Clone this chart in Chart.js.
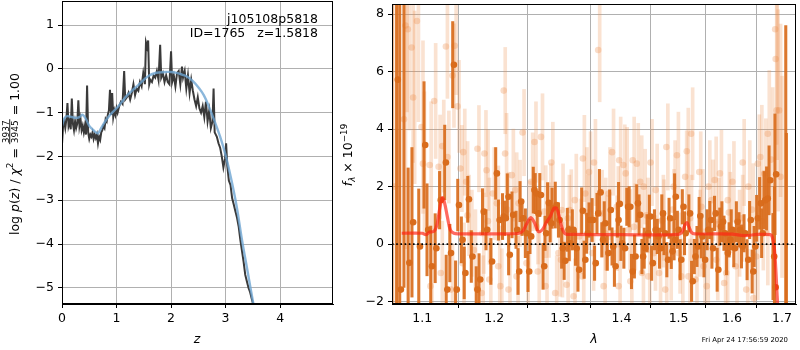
<!DOCTYPE html>
<html>
<head>
<meta charset="utf-8">
<script src="https://cdn.jsdelivr.net/npm/chart.js@4.4.1/dist/chart.umd.min.js"></script>
<style>
html, body { margin: 0; padding: 0; background: #fff; width: 800px; height: 350px; overflow: hidden; }
canvas { position: absolute; top: 0; }
#pz { left: 0; }
#sp { left: 330px; }
</style>
</head>
<body>
<canvas id="pz" width="340" height="350"></canvas>
<canvas id="sp" width="470" height="350"></canvas>
<script>
// ---- left panel: log p(z) ----
const zDark = [
  0.00,0.02,0.04,0.06,0.08,0.10,0.12,0.14,0.16,0.18,
  0.20,0.22,0.24,0.26,0.28,0.30,0.32,0.34,0.36,0.38,
  0.40,0.42,0.44,0.46,0.48,0.50,0.52,0.54,0.56,0.58,
  0.60,0.62,0.64,0.66,0.68,0.70,0.72,0.74,0.76,0.78,
  0.80,0.82,0.84,0.86,0.88,0.90,0.92,0.94,0.96,0.98,
  1.00,1.02,1.05,1.08,1.11,1.14,1.16,1.19,1.22,1.25,
  1.28,1.31,1.34,1.37,1.40,1.43,1.46,1.49,1.52,1.54,
  1.56,1.58,1.60,1.62,1.65,1.68,1.71,1.74,1.77,1.80,
  1.82,1.85,1.88,1.91,1.94,1.97,2.00,2.02,2.05,2.08,
  2.11,2.14,2.17,2.20,2.22,2.25,2.28,2.31,2.34,2.37,
  2.40,2.43,2.46,2.49,2.52,2.55,2.58,2.61,2.64,2.67,
  2.70,2.73,2.76,2.78,2.80,2.84,2.87,2.90,2.93,2.96,
  2.99,3.01,3.03,3.06,3.09,3.12,3.15,3.18,3.21,3.24,
  3.27,3.30,3.33,3.36,3.39,3.42,3.45,3.48,3.51
];
const pDark = [
  -1.72,-1.30,-1.20,-1.35,-1.15,-0.78,-1.30,-1.20,-1.38,-0.68,
  -1.25,-1.40,-1.20,-1.35,-1.25,-0.72,-1.30,-1.15,-1.40,-1.30,
  -1.45,-1.30,-1.50,-0.38,-1.45,-1.60,-1.50,-1.55,-1.45,-1.60,
  -1.50,-1.58,-1.50,-1.70,-1.55,-1.62,-1.45,-1.40,-1.30,-1.35,
  -1.15,-1.20,-1.05,-0.95,-0.48,-1.05,-0.55,-1.10,-0.95,-1.05,
  -0.90,-1.00,-0.85,-0.75,-0.80,-0.05,-0.70,-0.65,-0.55,-0.70,
  -0.55,-0.35,-0.60,-0.45,-0.50,-0.30,-0.40,-0.10,-0.35,0.60,
  0.50,0.65,-0.35,-0.25,-0.30,-0.15,-0.20,-0.05,-0.25,0.55,
  -0.20,-0.10,-0.30,-0.15,-0.30,-0.35,0.40,-0.30,-0.15,-0.40,
  -0.10,-0.05,-0.35,0.05,-0.20,-0.05,-0.45,-0.15,-0.55,-0.25,
  -0.50,-0.70,-0.85,-0.65,-0.90,-1.00,-0.85,-1.10,-0.75,-1.20,
  -0.95,-1.35,-1.20,-0.45,-1.45,-1.55,-1.70,-1.80,-2.00,-2.25,
  -2.05,-1.70,-2.20,-2.55,-2.65,-2.95,-3.10,-3.25,-3.40,-3.60,
  -3.90,-4.15,-4.40,-4.70,-4.85,-5.00,-5.10,-5.25,-5.40
];
const zSmooth = [0.00,0.05,0.10,0.18,0.25,0.32,0.38,0.44,0.50,0.56,0.62,0.66,0.72,0.78,0.85,0.92,1.00,1.10,1.20,1.30,
  1.40,1.50,1.60,1.70,1.80,1.90,2.00,2.10,2.20,2.30,2.40,2.50,2.60,2.70,2.80,2.90,3.00,3.10,3.20,3.30,3.40,3.50,3.55];
const pSmooth = [-1.30,-1.12,-1.08,-1.10,-1.12,-1.10,-1.05,-1.15,-1.30,-1.38,-1.45,-1.47,-1.35,-1.22,-1.10,-1.00,-0.90,-0.75,-0.60,-0.48,
  -0.37,-0.25,-0.15,-0.10,-0.08,-0.07,-0.07,-0.09,-0.13,-0.18,-0.28,-0.42,-0.60,-0.88,-1.20,-1.55,-1.97,-2.50,-3.12,-3.90,-4.60,-5.30,-5.60];
const zTicks = [0, 1, 2, 3, 4];
const pTicks = [-5, -4, -3, -2, -1, 0, 1];

// ---- right panel: spectrum ----
const lamDark = [
  1.062,1.068,1.072,1.0775,1.083,1.088,1.097,1.104,1.108,1.113,
  1.119,1.125,1.132,1.134,1.139,1.143,1.147,1.150,1.155,1.159,
  1.164,1.169,1.176,1.180,1.185,1.190,1.197,1.204,1.208,1.214,
  1.217,1.221,1.223,1.228,1.234,1.237,1.240,1.243,1.248,1.252,
  1.255,1.260,1.263,1.266,1.270,1.275,1.278,1.282,1.286,1.289,
  1.294,1.299,1.304,1.308,1.313,1.316,1.321,1.326,1.330,1.336,
  1.340,1.344,1.348,1.353,1.357,1.361,1.365,1.369,1.373,1.378,
  1.382,1.386,1.390,1.395,1.397,1.401,1.406,1.411,1.415,1.419,
  1.424,1.428,1.432,1.437,1.441,1.446,1.450,1.454,1.459,1.464,
  1.468,1.472,1.476,1.481,1.485,1.489,1.494,1.495,1.500,1.505,
  1.509,1.513,1.521,1.526,1.531,1.536,1.540,1.544,1.549,1.555,
  1.560,1.564,1.569,1.574,1.579,1.583,1.587,1.592,1.597,1.601,
  1.606,1.611,1.616,1.621,1.626,1.632,1.637,1.642,1.646,1.651,
  1.657,1.661,1.666,1.671,1.676,1.684,1.688,1.687,1.7102,1.7115
];
const fluxDark = [
  -4.0,5.72,-1.58,9.5,-0.65,0.76,-0.08,3.45,0.50,-0.77,
  -0.14,1.53,2.84,-1.58,-0.31,6.24,-1.58,1.36,0.15,-1.00,
  1.56,-0.43,-1.58,-1.23,1.13,0.50,-0.60,2.46,0.84,0.96,
  0.90,1.65,-0.37,1.02,0.50,-0.95,1.48,0.90,0.38,-0.95,
  0.27,1.88,1.76,1.07,1.71,-0.77,0.38,1.44,0.73,1.25,
  1.36,0.84,-0.14,-0.58,0.50,0.03,0.50,-0.14,-0.89,1.16,
  -0.54,0.38,0.84,0.84,-0.66,1.07,1.80,0.15,0.73,-0.31,
  1.19,-0.08,-0.77,0.84,1.40,0.03,-0.14,1.30,1.30,-0.95,
  -0.43,1.42,1.02,-0.43,-0.14,0.38,0.96,-0.66,0.50,0.27,
  -0.14,1.07,0.38,-0.54,0.90,-0.25,0.15,1.65,0.50,-0.54,
  1.30,0.38,1.07,-1.29,-0.43,-0.08,0.98,0.27,-0.54,0.50,
  0.84,-0.14,1.07,-0.89,0.61,0.78,0.38,-0.31,0.15,0.50,
  -0.14,0.78,0.50,-0.08,0.38,-0.54,0.84,-0.95,-0.08,0.90,
  1.42,0.38,1.53,1.59,2.22,-0.43,2.43,-1.50,-3.2,-4.0
];
const errDark = [
  13,9,10,11,3.3,2.6,2.0,2.2,1.6,1.4,
  1.2,1.0,1.3,1.2,1.0,1.5,1.0,0.9,0.8,0.9,
  0.8,0.9,0.8,0.9,0.8,0.7,0.8,0.9,0.7,0.8,
  0.6,0.8,0.7,0.8,0.65,0.8,0.7,0.6,0.85,0.7,
  0.6,0.8,0.7,0.6,0.75,0.8,0.6,0.7,0.65,0.7,
  0.8,0.6,0.7,0.65,0.75,0.6,0.7,0.6,0.75,0.8,
  0.65,0.7,0.6,0.75,0.6,0.7,0.8,0.6,0.75,0.6,
  0.7,0.65,0.7,0.6,0.75,0.6,0.7,0.65,0.7,0.6,
  0.75,0.65,0.7,0.6,0.7,0.65,0.75,0.6,0.7,0.6,
  0.7,0.65,0.75,0.6,0.7,0.6,0.7,0.8,0.65,0.7,
  0.6,0.75,0.65,0.7,0.6,0.7,0.65,0.75,0.6,0.7,
  0.65,0.7,0.6,0.75,0.65,0.7,0.6,0.75,0.6,0.7,
  0.65,0.7,0.6,0.75,0.65,0.7,0.65,0.75,0.7,0.8,
  0.9,0.85,1.0,1.1,1.2,1.5,2.1,3.5,10.8,7.85
];
const lamPale = [
  1.064,1.076,1.078,1.081,1.086,1.088,1.093,1.099,1.101,1.110,
  1.111,1.116,1.122,1.125,1.127,1.132,1.134,1.139,1.141,1.144,
  1.148,1.152,1.155,1.156,1.160,1.166,1.171,1.176,1.182,1.183,
  1.186,1.189,1.193,1.198,1.204,1.206,1.209,1.214,1.216,1.221,
  1.226,1.231,1.233,1.236,1.242,1.248,1.255,1.260,1.263,1.265,
  1.270,1.275,1.277,1.280,1.286,1.292,1.297,1.301,1.302,1.310,
  1.315,1.321,1.323,1.330,1.335,1.336,1.340,1.346,1.351,1.354,
  1.361,1.365,1.370,1.373,1.378,1.384,1.390,1.395,1.396,1.403,
  1.407,1.412,1.415,1.419,1.426,1.432,1.435,1.438,1.446,1.450,
  1.456,1.459,1.465,1.471,1.476,1.478,1.484,1.491,1.497,1.500,
  1.505,1.512,1.515,1.518,1.523,1.531,1.537,1.538,1.546,1.552,
  1.555,1.561,1.567,1.570,1.577,1.585,1.589,1.592,1.601,1.607,
  1.612,1.621,1.628,1.632,1.642,1.648,1.651,1.656,1.664,1.668,
  1.671,1.678,1.686,1.687,1.689,1.694,1.697,1.162,1.191,1.219,
  1.250,1.283,1.312,1.342,1.371,1.392,1.421,1.443,1.470,1.489,
  1.521,1.542,1.572,1.594,1.618,1.639,1.659
];
const fluxPale = [
  2.0,4.34,7.60,7.47,6.84,5.10,7.76,4.07,2.80,2.75,
  -1.46,4.98,2.69,-1.00,3.41,6.87,3.03,-1.58,5.86,6.90,
  4.79,2.63,-0.66,3.20,2.17,0.38,-0.20,3.32,-1.70,0.38,
  3.15,2.57,-1.23,1.76,1.42,-0.77,-1.46,5.34,3.15,-1.58,
  2.40,1.88,-1.12,1.42,3.88,-0.66,2.17,3.55,0.61,-0.95,
  3.73,1.13,-1.46,0.84,2.84,-1.70,-0.31,-0.54,1.19,-1.41,
  1.19,-1.81,1.53,0.27,-1.12,2.98,1.76,2.51,-0.31,2.84,
  6.75,1.07,-1.46,0.38,1.76,3.20,0.38,-1.46,2.92,2.75,
  2.46,0.50,-1.29,2.92,2.80,2.17,-1.00,2.00,-1.12,2.84,
  -0.31,1.88,-1.00,0.84,-1.58,3.38,-0.54,2.00,3.09,-0.31,
  -1.12,2.34,3.23,-1.12,3.84,-1.23,0.38,2.51,-0.77,-1.46,
  2.00,1.53,2.23,-0.54,2.46,-1.35,-1.00,1.53,2.17,-0.77,
  0.38,2.84,-1.58,2.00,-1.87,-0.43,2.80,3.03,2.46,0.38,
  3.84,2.94,7.47,6.44,4.65,4.65,2.34,1.00,0.80,1.20,
  0.60,1.40,0.90,1.10,0.70,1.30,0.60,1.00,0.80,1.20,
  0.90,1.30,0.70,1.10,0.90,1.20,0.80
];
const errPale = [
  8.0,4.5,3.0,3.5,4.0,3.0,3.5,3.0,2.5,2.2,
  2.0,2.0,1.8,1.8,1.6,1.8,1.6,1.6,1.8,1.7,
  1.6,1.5,1.4,1.5,1.4,1.5,1.4,1.5,1.3,1.4,
  1.5,1.4,1.3,1.6,1.3,1.4,1.3,1.5,1.4,1.3,
  1.6,1.3,1.4,1.5,1.5,1.4,1.7,1.4,1.3,1.4,
  1.5,1.6,1.4,1.3,1.4,1.3,1.5,1.3,1.6,1.3,
  1.4,1.3,1.6,1.3,1.4,1.5,1.6,1.4,1.3,1.5,
  1.8,1.5,1.4,1.3,1.6,1.5,1.3,1.4,1.5,1.4,
  1.6,1.4,1.3,1.5,1.4,1.6,1.4,1.3,1.4,1.5,
  1.3,1.6,1.3,1.4,1.3,1.5,1.4,1.6,1.5,1.4,
  1.3,1.6,1.5,1.3,1.6,1.4,1.5,1.4,1.3,1.4,
  1.6,1.4,1.5,1.4,1.5,1.3,1.4,1.6,1.4,1.3,
  1.5,1.5,1.4,1.6,1.6,1.5,1.7,1.8,1.9,1.8,
  2.2,2.5,4.0,3.5,3.5,3.0,3.5,1.4,1.5,1.3,
  1.6,1.4,1.5,1.3,1.6,1.4,1.5,1.3,1.6,1.4,
  1.5,1.3,1.6,1.4,1.5,1.6,1.7
];
const lamModel = [1.073,1.100,1.105,1.110,1.116,1.120,1.124,1.127,1.130,1.134,
  1.138,1.143,1.150,1.200,1.235,1.242,1.248,1.254,1.260,1.266,
  1.272,1.278,1.284,1.290,1.294,1.298,1.303,1.308,1.320,1.400,
  1.500,1.507,1.511,1.515,1.519,1.524,1.530,1.600,1.625,1.650,
  1.676,1.680,1.684,1.687,1.690,1.694];
const fluxModel = [0.38,0.38,0.33,0.42,0.45,0.70,1.30,1.62,1.45,0.95,
  0.50,0.38,0.36,0.36,0.37,0.45,0.70,0.92,0.75,0.44,
  0.50,0.75,0.95,1.25,1.25,1.00,0.55,0.36,0.34,0.33,
  0.34,0.45,0.65,0.75,0.60,0.40,0.36,0.35,0.30,0.34,
  0.33,0.25,-0.10,-0.80,-1.80,-3.00];
const lamTicks = [1.1, 1.2, 1.3, 1.4, 1.5, 1.6, 1.7];
const fluxTicks = [-2, 0, 2, 4, 6, 8];
const lamMin = 1.0605, lamMax = 1.729;

const FAM = 'DejaVu Sans';
const FS = 12.5;
Chart.defaults.font.family = FAM;
Chart.defaults.color = '#000';

const minus = v => String(v).replace('-', '\u2212');
const fnt = (size, italic) => (italic ? 'italic ' : '') + size + 'px "' + FAM + '"';

// rotated label made of pieces: [text, size, italic, dy] or {frac:[num, den], size}
function rotatedLabel(ctx, cx, cy, pieces) {
  ctx.save();
  ctx.translate(cx, cy);
  ctx.rotate(-Math.PI / 2);
  ctx.fillStyle = '#000';
  ctx.textBaseline = 'alphabetic';
  ctx.textAlign = 'left';
  const widths = pieces.map(p => {
    if (p.frac) {
      ctx.font = fnt(p.size, false);
      return Math.max(ctx.measureText(p.frac[0]).width, ctx.measureText(p.frac[1]).width) + 2;
    }
    ctx.font = fnt(p[1], p[2]);
    return ctx.measureText(p[0]).width;
  });
  let x = -widths.reduce((a, b) => a + b, 0) / 2;
  pieces.forEach((p, i) => {
    if (p.frac) {
      ctx.font = fnt(p.size, false);
      const wn = ctx.measureText(p.frac[0]).width;
      const wd = ctx.measureText(p.frac[1]).width;
      ctx.fillText(p.frac[0], x + (widths[i] - wn) / 2, -10);
      ctx.fillText(p.frac[1], x + (widths[i] - wd) / 2, -0.5);
      ctx.fillRect(x, -9.2, widths[i], 0.9);
    } else {
      ctx.font = fnt(p[1], p[2]);
      ctx.fillText(p[0], x, p[3]);
    }
    x += widths[i];
  });
  ctx.restore();
}

function frame(chart) {
  const { ctx, chartArea: a } = chart;
  ctx.save();
  ctx.strokeStyle = '#000';
  ctx.lineWidth = 1;
  ctx.strokeRect(Math.round(a.left) + 0.5, Math.round(a.top) + 0.5,
    Math.round(a.right - a.left) - 1, Math.round(a.bottom - a.top) - 1);
  ctx.restore();
}

const noPad = s => { s.paddingTop = 0; s.paddingBottom = 0; s.paddingLeft = 0; s.paddingRight = 0; };
const gridStyle = { color: '#b0b0b0', lineWidth: 1, tickColor: '#000', tickLength: 4 };

new Chart(document.getElementById('pz'), {
  type: 'scatter',
  data: {
    datasets: [
      {
        data: zSmooth.map((z, i) => ({ x: z, y: pSmooth[i] })),
        showLine: true, pointRadius: 0, borderColor: 'rgba(110,165,210,0.8)', borderWidth: 2.4,
        tension: 0.4, clip: 0, order: 0
      },
      {
        data: zDark.map((z, i) => ({ x: z, y: pDark[i] })),
        showLine: true, pointRadius: 0, borderColor: '#3a3a3a', borderWidth: 2,
        tension: 0, clip: 0, order: 1
      }
    ]
  },
  options: {
    responsive: false, animation: false,
    layout: { padding: { left: 0, top: 1, right: 7, bottom: 0 } },
    plugins: { legend: { display: false }, tooltip: { enabled: false } },
    scales: {
      x: {
        type: 'linear', min: 0, max: 4.97,
        afterBuildTicks: s => { s.ticks = zTicks.map(v => ({ value: v })); },
        afterFit: s => { s.height = 46; noPad(s); },
        ticks: { font: { size: FS }, padding: 3, maxRotation: 0, callback: v => minus(v) },
        grid: gridStyle, border: { color: '#000' }
      },
      y: {
        type: 'linear', min: -5.37, max: 1.55,
        afterBuildTicks: s => { s.ticks = pTicks.map(v => ({ value: v })); },
        afterFit: s => { s.width = 62; noPad(s); },
        ticks: { font: { size: FS }, padding: 4, callback: v => minus(v) },
        grid: gridStyle, border: { color: '#000' }
      }
    }
  },
  plugins: [{
    id: 'decorL',
    afterDraw(chart) {
      frame(chart);
      const ctx = chart.ctx;
      ctx.save();
      ctx.fillStyle = '#000';
      ctx.font = fnt(FS, false);
      ctx.textAlign = 'right';
      ctx.textBaseline = 'alphabetic';
      ctx.fillText('j105108p5818', 318, 23);
      ctx.fillText('ID=1765   z=1.5818', 318, 37);
      ctx.textAlign = 'center';
      ctx.font = fnt(FS, true);
      ctx.fillText('z', 197, 343);
      ctx.restore();
      rotatedLabel(ctx, 18.5, 154, [
        ['log ', FS, false, 0], ['p', FS, true, 0], ['(', FS, false, 0], ['z', FS, true, 0],
        [') / ', FS, false, 0], ['\u03c7', FS, true, 0], ['2', 8.8, false, -5.5], [' = ', FS, false, 0],
        { frac: ['3937', '3945'], size: 9 }, [' = 1.00', FS, false, 0]
      ]);
    }
  }]
});

new Chart(document.getElementById('sp'), {
  type: 'scatter',
  data: {
    datasets: [
      {
        data: [{ x: lamMin, y: 0 }, { x: lamMax, y: 0 }],
        showLine: true, pointRadius: 0, borderColor: '#000', borderWidth: 1.6,
        borderDash: [1.6, 2.6], clip: 0, order: 0
      },
      {
        data: lamModel.map((l, i) => ({ x: l, y: fluxModel[i] })),
        showLine: true, pointRadius: 0, borderColor: 'rgba(255,35,20,0.68)', borderWidth: 3.2,
        tension: 0.35, clip: 0, order: 1
      },
      {
        data: lamDark.map((l, i) => ({ x: l, y: fluxDark[i] })),
        pointRadius: 3.3, pointBorderWidth: 0, backgroundColor: 'rgb(217,108,28)', clip: 0, order: 2
      },
      {
        type: 'bar', xAxisID: 'x',
        data: lamDark.map((l, i) => ({ x: l, y: [fluxDark[i] - errDark[i], fluxDark[i] + errDark[i]] })),
        backgroundColor: 'rgba(217,108,28,0.92)', borderWidth: 0, barThickness: 2.4, clip: 0, order: 3
      },
      {
        data: lamPale.map((l, i) => ({ x: l, y: fluxPale[i] })),
        pointRadius: 3.3, pointBorderWidth: 0, backgroundColor: 'rgba(236,140,72,0.3)', clip: 0, order: 4
      },
      {
        type: 'bar', xAxisID: 'x2',
        data: lamPale.map((l, i) => ({ x: l, y: [fluxPale[i] - errPale[i], fluxPale[i] + errPale[i]] })),
        backgroundColor: 'rgba(236,140,72,0.25)', borderWidth: 0, barThickness: 3, clip: 0, order: 5
      }
    ]
  },
  options: {
    responsive: false, animation: false,
    layout: { padding: { left: 0, top: 1, right: 1, bottom: 0 } },
    plugins: { legend: { display: false }, tooltip: { enabled: false } },
    scales: {
      x: {
        type: 'logarithmic', min: lamMin, max: lamMax, offset: false,
        afterBuildTicks: s => { s.ticks = lamTicks.map(v => ({ value: v })); },
        afterFit: s => { s.height = 46; noPad(s); },
        ticks: { font: { size: FS }, padding: 3, maxRotation: 0, autoSkip: false, callback: v => Number(v).toFixed(1) },
        grid: gridStyle, border: { color: '#000' }
      },
      x2: {
        type: 'logarithmic', min: lamMin, max: lamMax, offset: false, display: false, position: 'bottom'
      },
      y: {
        type: 'linear', min: -2.08, max: 8.35,
        afterBuildTicks: s => { s.ticks = fluxTicks.map(v => ({ value: v })); },
        afterFit: s => { s.width = 62; noPad(s); },
        ticks: { font: { size: FS }, padding: 4, callback: v => minus(v) },
        grid: gridStyle, border: { color: '#000' }
      }
    }
  },
  plugins: [{
    id: 'decorR',
    afterDraw(chart) {
      frame(chart);
      const ctx = chart.ctx;
      ctx.save();
      ctx.fillStyle = '#000';
      ctx.textAlign = 'center';
      ctx.textBaseline = 'alphabetic';
      ctx.font = fnt(FS, true);
      ctx.fillText('\u03bb', 264, 343);
      ctx.textAlign = 'right';
      ctx.font = fnt(6.9, false);
      ctx.fillText('Fri Apr 24 17:56:59 2020', 458, 342);
      ctx.restore();
      rotatedLabel(ctx, 22, 155, [
        ['f', FS, true, 0], ['\u03bb', 8.8, true, 3], [' \u00d7 10', FS, false, 0], ['\u221219', 8.8, false, -5.5]
      ]);
    }
  }]
});
</script>
</body>
</html>
